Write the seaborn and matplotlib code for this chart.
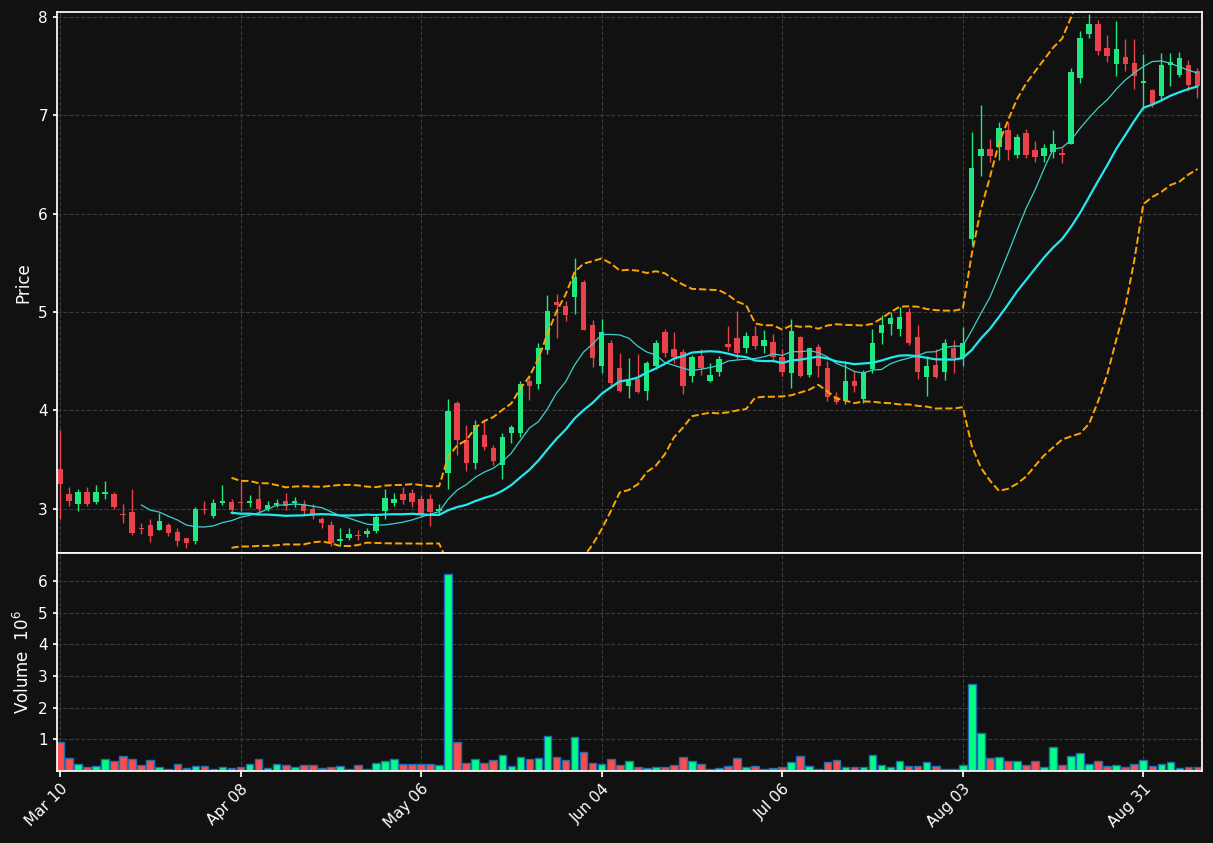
import numpy as np
import pandas as pd
import matplotlib
matplotlib.use("Agg")
import matplotlib.pyplot as plt
import seaborn as sns

tick_labels = ["Mar 10", "Apr 08", "May 06", "Jun 04", "Jul 06", "Aug 03", "Aug 31"]

opens = [3.40,3.15,3.05,3.17,3.07,3.15,3.15,2.95,2.97,2.80,2.83,2.78,2.83,2.76,2.70,2.67,3.00,2.93,3.06,3.07,
         3.07,3.06,3.10,3.00,3.04,3.08,3.06,3.05,3.00,2.90,2.83,2.67,2.70,2.73,2.74,2.77,2.98,3.06,3.15,3.16,
         3.10,3.10,2.98,3.36,4.07,3.70,3.47,3.75,3.62,3.44,3.77,3.77,4.30,4.27,4.61,5.10,5.06,5.15,5.31,4.87,
         4.45,4.69,4.43,4.25,4.32,4.20,4.45,4.80,4.62,4.59,4.35,4.55,4.30,4.39,4.67,4.74,4.63,4.76,4.65,4.70,
         4.54,4.38,4.75,4.36,4.64,4.43,4.14,4.11,4.30,4.12,4.42,4.79,4.88,4.83,5.00,4.75,4.34,4.46,4.39,4.63,
         4.53,5.74,6.59,6.66,6.68,6.85,6.60,6.82,6.65,6.59,6.63,6.62,6.71,7.38,7.83,7.93,7.68,7.52,7.59,7.53,
         7.33,7.26,7.20,7.51,7.41,7.51,7.45]
closes = [3.25,3.08,3.17,3.05,3.17,3.17,3.02,2.94,2.75,2.79,2.72,2.88,2.75,2.67,2.65,3.00,2.99,3.06,3.08,2.99,
          3.06,3.08,3.00,3.04,3.06,3.03,3.08,2.98,2.93,2.85,2.65,2.69,2.74,2.72,2.77,2.92,3.11,3.10,3.09,3.07,
          2.95,2.97,3.00,3.99,3.70,3.47,3.85,3.63,3.49,3.73,3.83,4.27,4.25,4.63,5.01,5.07,4.97,5.36,4.82,4.53,
          4.80,4.28,4.20,4.30,4.19,4.48,4.68,4.58,4.54,4.25,4.54,4.43,4.36,4.52,4.64,4.58,4.76,4.65,4.72,4.54,
          4.39,4.81,4.35,4.63,4.45,4.14,4.09,4.30,4.25,4.39,4.69,4.87,4.94,4.95,4.69,4.39,4.45,4.34,4.68,4.53,
          4.69,6.46,6.66,6.59,6.87,6.65,6.78,6.60,6.58,6.67,6.71,6.60,7.44,7.79,7.93,7.65,7.60,7.67,7.52,7.40,
          7.35,7.11,7.51,7.54,7.58,7.31,7.30]
highs = [3.80,3.22,3.20,3.22,3.24,3.28,3.17,3.05,3.20,2.86,2.90,2.96,2.86,2.80,2.70,3.02,3.08,3.10,3.24,3.10,
         3.28,3.14,3.24,3.08,3.10,3.16,3.12,3.09,3.05,2.92,2.88,2.80,2.80,2.78,2.80,2.95,3.20,3.16,3.22,3.20,
         3.14,3.15,3.05,4.12,4.10,3.85,3.90,3.90,3.65,3.77,3.85,4.30,4.35,4.68,5.17,5.18,5.11,5.55,5.33,4.92,
         4.93,4.72,4.58,4.53,4.57,4.50,4.72,4.83,4.80,4.62,4.56,4.62,4.48,4.55,4.86,5.01,4.80,4.86,4.82,4.78,
         4.62,4.93,4.76,4.63,4.67,4.50,4.19,4.50,4.40,4.41,4.83,4.97,5.00,5.05,5.04,4.87,4.55,4.62,4.73,4.72,
         4.85,6.83,7.10,6.76,6.93,6.93,6.81,6.86,6.74,6.71,6.85,6.67,7.48,7.86,8.03,7.97,7.82,7.96,7.78,7.78,
         7.62,7.27,7.63,7.63,7.64,7.56,7.48]
lows = [2.90,3.03,2.98,3.03,3.05,3.10,3.00,2.85,2.73,2.74,2.66,2.78,2.72,2.62,2.60,2.64,2.95,2.91,3.04,2.95,
        2.98,3.02,2.96,2.98,3.02,2.99,3.02,2.94,2.90,2.80,2.62,2.63,2.68,2.68,2.71,2.75,2.90,3.03,3.05,3.02,
        2.92,2.82,2.95,3.20,3.55,3.38,3.40,3.60,3.44,3.30,3.67,3.73,4.11,4.22,4.57,4.74,4.91,4.98,4.82,4.44,
        4.38,4.23,4.19,4.13,4.18,4.11,4.42,4.54,4.48,4.17,4.29,4.36,4.29,4.35,4.60,4.52,4.58,4.62,4.58,4.49,
        4.35,4.23,4.34,4.34,4.34,4.10,4.06,4.06,4.19,4.08,4.38,4.67,4.77,4.76,4.66,4.32,4.15,4.33,4.31,4.38,
        4.45,5.68,6.38,6.52,6.55,6.55,6.57,6.57,6.52,6.52,6.57,6.51,6.71,7.33,7.79,7.61,7.54,7.40,7.45,7.27,
        7.06,7.08,7.17,7.30,7.39,7.25,7.18]
volumes = [0.93,0.41,0.23,0.12,0.15,0.37,0.30,0.47,0.37,0.20,0.34,0.13,0.06,0.23,0.09,0.17,0.17,0.06,0.13,0.09,
           0.13,0.23,0.37,0.09,0.23,0.20,0.13,0.20,0.20,0.09,0.13,0.17,0.06,0.20,0.06,0.26,0.30,0.37,0.23,0.23,
           0.23,0.23,0.20,6.22,0.90,0.26,0.37,0.26,0.34,0.51,0.17,0.44,0.37,0.41,1.12,0.44,0.34,1.08,0.60,0.26,
           0.23,0.37,0.20,0.30,0.12,0.08,0.12,0.12,0.20,0.44,0.30,0.23,0.06,0.08,0.16,0.41,0.13,0.16,0.06,0.09,
           0.13,0.27,0.48,0.16,0.06,0.27,0.34,0.13,0.13,0.13,0.51,0.20,0.13,0.30,0.16,0.16,0.27,0.16,0.06,0.06,
           0.20,2.75,1.20,0.41,0.44,0.30,0.30,0.20,0.30,0.13,0.76,0.20,0.48,0.58,0.23,0.30,0.16,0.20,0.13,0.23,
           0.34,0.16,0.23,0.27,0.09,0.13,0.13]

df = pd.DataFrame({"open": opens, "high": highs, "low": lows, "close": closes, "volume": volumes})
df["idx"] = np.arange(len(df))
df["up"] = df["close"] >= df["open"]
ma10 = df["close"].rolling(10).mean()
ma20 = df["close"].rolling(20).mean()
sd20 = df["close"].rolling(20).std(ddof=0)
upper = ma20 + 2 * sd20
lower = ma20 - 2 * sd20

sns.set_theme(style="dark")
bg = "#111111"
plt.rcParams.update({"figure.facecolor": bg, "axes.facecolor": bg, "text.color": "white",
                     "axes.labelcolor": "white", "xtick.color": "white", "ytick.color": "white",
                     "axes.edgecolor": "white"})
plt.rcParams["font.family"] = ["DejaVu Sans"]

fig = plt.figure(figsize=(12.13, 8.43), dpi=100)
ax = fig.add_axes([57/1213, 1-553/843, (1202-57)/1213, (553-12)/843])
axv = fig.add_axes([57/1213, 1-771/843, (1202-57)/1213, (771-553)/843], sharex=ax)

up_c, dn_c = "#1ee87f", "#e8434a"
cols = [up_c if u else dn_c for u in df["up"]]
ax.vlines(df["idx"], df["low"], df["high"], colors=cols, linewidth=1)
bottoms = np.minimum(df["open"], df["close"])
heights = np.maximum(np.abs(df["close"] - df["open"]), 0.01)
ax.bar(df["idx"], heights, bottom=bottoms, width=0.6, color=cols, linewidth=0)

sns.lineplot(x=df["idx"], y=ma10, ax=ax, color="#3fd0c8", linewidth=0.9)
sns.lineplot(x=df["idx"], y=ma20, ax=ax, color="#22e8f0", linewidth=1.6)
sns.lineplot(x=df["idx"], y=upper, ax=ax, color="#ffa500", linewidth=1.4, linestyle="--")
sns.lineplot(x=df["idx"], y=lower, ax=ax, color="#ffa500", linewidth=1.4, linestyle="--")

vcols = ["#00ff85" if u else "#ff4b4b" for u in df["up"]]
axv.bar(df["idx"], df["volume"], width=0.85, color=vcols, edgecolor="#1f6fb0", linewidth=1)

for a in (ax, axv):
    a.grid(True, color="#3a3a3a", linestyle="--", linewidth=0.8)
    for s in a.spines.values():
        s.set_color("white")
    a.set_xlabel("")
ax.set_xlim(-0.33, 126.5)
ax.set_ylim(2.55, 8.05)
ax.set_yticks([3, 4, 5, 6, 7, 8])
ax.set_ylabel("Price")
ax.tick_params(axis="x", labelbottom=False, length=0)
axv.set_ylim(0, 6.88)
axv.set_yticks([1, 2, 3, 4, 5, 6])
axv.set_ylabel("Volume  $10^6$")
axv.set_xticks([0, 20, 40, 60, 80, 100, 120])
axv.set_xticklabels(tick_labels, rotation=45, ha="right", rotation_mode="anchor")
axv.tick_params(axis="x", length=4, color="white", bottom=True)
ax.tick_params(axis="y", left=True, length=3, color="white")
axv.tick_params(axis="y", left=True, length=3, color="white")
for a in (ax, axv):
    a.tick_params(labelsize=11)

fig.savefig("out.png", dpi=100, facecolor=bg)
